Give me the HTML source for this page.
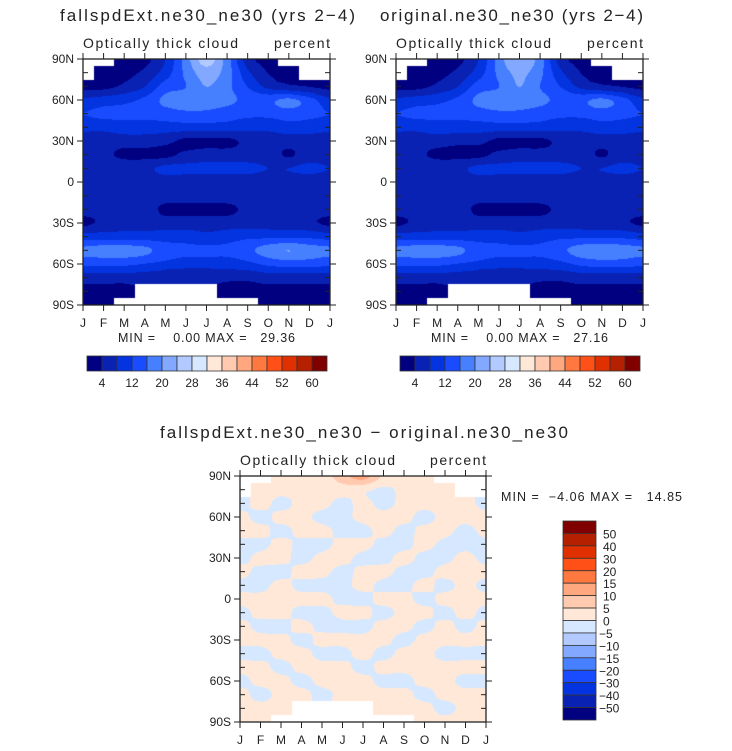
<!DOCTYPE html>
<html><head><meta charset="utf-8"><style>
html,body{margin:0;padding:0;background:#fff;}
body{width:732px;height:751px;position:relative;overflow:hidden;font-family:"Liberation Sans",sans-serif;}
canvas{position:absolute;}
svg{position:absolute;left:0;top:0;}
text{font-family:"Liberation Sans",sans-serif;fill:#222;white-space:pre;}
</style></head><body>
<canvas id="c1" width="247" height="246" style="left:83px;top:59px"></canvas>
<canvas id="c2" width="247" height="246" style="left:396px;top:59px"></canvas>
<canvas id="c3" width="246" height="246" style="left:240px;top:476px"></canvas>
<svg id="s" width="732" height="751"></svg>
<script>
const N=NaN;
const months=["J","F","M","A","M","J","J","A","S","O","N","D","J"];
const latLabels=["90N","60N","30N","0","30S","60S","90S"];
const levels=[4,8,12,16,20,24,28,32,36,40,44,48,52,56,60];
const levelLabels=["4","12","20","28","36","44","52","60"];
const colors=["#000080","#0a22b4","#0434e0","#1a4cff","#4680ff","#82a8ff","#b2caff","#d6e8ff","#ffe8d8","#ffcab0","#ffa880","#ff7840","#ff5018","#e03000","#b42000","#800000"];
const diffLevels=[-50,-40,-30,-20,-15,-10,-5,0,5,10,15,20,30,40,50];
const diffLabels=["50","40","30","20","15","10","5","0","\u22125","\u221210","\u221215","\u221220","\u221230","\u221240","\u221250"];
const diffColors=["#000080","#0a22b4","#0434e0","#1a4cff","#4680ff","#82a8ff","#b2caff","#d6e8ff","#ffe8d8","#ffcab0","#ffa880","#ff7840","#ff5018","#e03000","#b42000","#800000"];
// rows: 90N..90S every 10 deg; cols: month ticks J..J
const gridA=[
[N,N,3,3,8,18,26,18,6,3,N,N,N],
[N,3,3,5,10,17,22,18,9,4,3,N,N],
[3,3,5,8,14,16,20,17,12,7,5,4,3],
[9,10,11,13,17,18,18,17,15,15,17,14,9],
[12,13,13,13,14,15,15,14,13,13,14,13,12],
[9,9,10,10,10,10,10,10,9,9,10,10,9],
[6,6,6,6,5,3,3,3,5,6,6,6,6],
[6,5,3,3,3,5,6,6,6,6,3.5,6,6],
[8,7,7,7,9,9,9,9,9,8,8,9,8],
[6,6,6,6,6,6,6,6,6,6,6,6,6],
[6,6,6,6,6,6,6,6,6,6,6,6,6],
[6,6,6,6,3,3,3,3,5,6,6,6,6],
[3,5,6,6,6,6,6,6,6,6,6,5,3],
[10,10,10,10,10,10,9,10,11,11,11,11,10],
[17,18,18,17,14,13,13,13,15,18,20,18,17],
[13,13,13,12,11,10,10,10,11,13,14,14,13],
[6,6,6,6,5,5,5,5,5,6,6,6,6],
[3,3,3,N,N,N,N,3,3,3,3,3,3],
[3,3,N,N,N,N,N,N,N,3,3,3,3]];
const gridB=[
[N,N,3,3,8,18,24,18,6,3,N,N,N],
[N,3,3,5,10,17,21,17,9,4,3,N,N],
[3,3,5,8,14,16,20,16,12,7,5,4,3],
[9,10,11,13,17,18,18,17,15,15,17,14,9],
[12,13,13,13,14,15,15,14,13,13,14,13,12],
[9,9,10,10,10,10,10,10,9,9,10,10,9],
[6,6,6,5,5,3,3,3,5,6,6,6,6],
[6,5,3,3,3,5,6,6,6,6,3.5,6,6],
[8,7,7,7,9,9,9,9,9,8,8,9,8],
[6,6,6,6,6,6,6,6,6,6,6,6,6],
[6,6,6,6,6,6,6,6,6,6,6,6,6],
[6,6,6,6,3,3,3,3,5,6,6,6,6],
[3,5,6,6,6,6,6,6,6,6,6,5,3],
[10,10,10,10,10,10,9,10,11,11,11,11,10],
[17,18,18,17,14,13,13,13,15,18,19,18,17],
[13,13,13,12,11,10,10,10,11,13,14,14,13],
[6,6,6,6,5,5,5,5,5,6,6,6,6],
[3,3,3,N,N,N,N,3,3,3,3,3,3],
[3,3,N,N,N,N,N,N,N,3,3,3,3]];
const gridD=[
[N,N,1,1,2,8,12,4,1,1,N,N,N],
[N,1,1,1,1,2,1,-1,1,1,1,N,N],
[-1,1,-1,1,1,-1,1,-1,1,1,1,1,-1],
[1,-1,1,1,-1,-1,1,1,1,-1,1,1,1],
[1,1,-1,1,1,-1,-1,1,-1,1,1,-1,1],
[-1,-1,1,-1,-1,1,1,-1,-1,1,-1,-1,-1],
[-1,1,1,-1,1,1,-1,-1,1,-1,-1,1,-1],
[1,-1,-1,1,1,-1,1,1,-1,-1,1,1,1],
[-1,-1,1,-1,-1,-1,1,-1,-1,1,-1,1,-1],
[1,1,1,1,1,-1,-1,1,1,-1,1,1,1],
[-1,1,1,-1,-1,1,1,-1,1,1,-1,1,-1],
[1,-1,-1,1,-1,-1,-1,1,1,-1,1,-1,1],
[1,1,1,-1,1,1,1,1,-1,1,1,1,1],
[-1,-1,1,1,-1,-1,1,-1,1,1,-1,-1,-1],
[1,1,-1,1,1,1,-1,1,1,1,1,1,1],
[-1,1,1,-1,1,1,1,-1,-1,1,1,-1,-1],
[1,-1,1,1,-1,1,1,1,1,-1,1,1,1],
[1,1,1,N,N,N,N,1,1,1,-1,1,1],
[1,1,N,N,N,N,N,N,N,1,1,1,1]];

function hex(c){return [parseInt(c.substr(1,2),16),parseInt(c.substr(3,2),16),parseInt(c.substr(5,2),16)];}
function cr(p0,p1,p2,p3,t){return 0.5*((2*p1)+(-p0+p2)*t+(2*p0-5*p1+4*p2-p3)*t*t+(-p0+3*p1-3*p2+p3)*t*t*t);}
function drawMap(id,grid,lv,cl){
  const cv=document.getElementById(id),ctx=cv.getContext('2d'),w=cv.width,h=cv.height;
  const img=ctx.createImageData(w,h),R=grid.length,C=grid[0].length;
  const rgb=cl.map(hex);
  const g=(r,c)=>{r=Math.max(0,Math.min(R-1,r));c=Math.max(0,Math.min(C-1,c));return grid[r][c];};
  for(let py=0;py<h;py++){const fy=py/(h-1)*(R-1);const r0=Math.min(Math.floor(fy),R-2),ty=fy-r0;
    for(let px=0;px<w;px++){const fx=px/(w-1)*(C-1);const c0=Math.min(Math.floor(fx),C-2),tx=fx-c0;
      let col=[255,255,255];
      const nr=ty<0.5?r0:r0+1,nc=tx<0.5?c0:c0+1;
      const base=grid[nr][nc];
      if(!isNaN(base)){
        const rows=[];
        for(let dr=-1;dr<=2;dr++){const p=[];for(let dc=-1;dc<=2;dc++){let v=g(r0+dr,c0+dc);if(isNaN(v))v=base;p.push(v);}
          rows.push(cr(p[0],p[1],p[2],p[3],tx));}
        const v=cr(rows[0],rows[1],rows[2],rows[3],ty);
        let i=0;while(i<lv.length&&v>=lv[i])i++;col=rgb[i];}
      const k=(py*w+px)*4;img.data[k]=col[0];img.data[k+1]=col[1];img.data[k+2]=col[2];img.data[k+3]=255;}}
  ctx.putImageData(img,0,0);
}
drawMap('c1',gridA,levels,colors);
drawMap('c2',gridB,levels,colors);
drawMap('c3',gridD,diffLevels,diffColors);

const S=document.getElementById('s'),NS='http://www.w3.org/2000/svg';
function el(t,a,txt){const e=document.createElementNS(NS,t);for(const k in a)e.setAttribute(k,a[k]);if(txt!==undefined)e.textContent=txt;S.appendChild(e);return e;}
function axes(x0,y0,w,h,pre,title,titleX,titleW,stats,statsX,statsY,statsW){
  const t=el('text',{x:titleX,y:y0-38,'font-size':17,textLength:titleW,lengthAdjust:'spacing'},title);
  
  const s1=el('text',{x:x0,y:y0-11,'font-size':14,textLength:155,lengthAdjust:'spacing'},'Optically thick cloud');
  
  const s2=el('text',{x:x0+w-56,y:y0-11,'font-size':14,textLength:56,lengthAdjust:'spacing'},'percent');
  
  el('rect',{x:x0,y:y0,width:w,height:h,fill:'none',stroke:'#222','stroke-width':1.3});
  const xs=m=>x0+m/(months.length-1)*w, ys=lat=>y0+(90-lat)/180*h;
  months.forEach((m,i)=>{const x=xs(i);
    el('line',{x1:x,x2:x,y1:y0,y2:y0-6,stroke:'#222'});
    el('line',{x1:x,x2:x,y1:y0+h,y2:y0+h+6,stroke:'#222'});
    const ml=el('text',{x:x,y:y0+h+22,'font-size':12,'text-anchor':'middle'},m);
    });
  for(let lat=90;lat>=-90;lat-=10){const y=ys(lat),maj=lat%30===0;
    el('line',{x1:x0-(maj?6:0),x2:x0+(maj?0:5),y1:y,y2:y,stroke:'#222'});
    el('line',{x1:x0+w-(maj?0:5),x2:x0+w+(maj?6:0),y1:y,y2:y,stroke:'#222'});}
  latLabels.forEach((l,i)=>{const ll=el('text',{x:x0-9,y:ys(90-i*30)+4,'font-size':12,'text-anchor':'end'},l);
    });
  const st=el('text',{x:statsX,y:statsY,'font-size':12.5,textLength:statsW,lengthAdjust:'spacing'},stats);
  
}
axes(83,59,247,246,'plot1','fallspdExt.ne30_ne30 (yrs 2\u22124)',60,295,'MIN =    0.00 MAX =   29.36',118,342,177);
axes(396,59,247,246,'plot2','original.ne30_ne30 (yrs 2\u22124)',380,263,'MIN =    0.00 MAX =   27.16',431,342,177);
axes(240,476,246,246,'plot3','fallspdExt.ne30_ne30 \u2212 original.ne30_ne30',160,408,'MIN =  \u22124.06 MAX =   14.85',501,501,181);

function hbar(x0,y0,w,h,pre){
  const bw=w/colors.length;
  colors.forEach((c,i)=>{const r=el('rect',{x:x0+i*bw,y:y0,width:bw,height:h,fill:c,stroke:'#333','stroke-width':0.8});
    });
  levelLabels.forEach((l,i)=>{const t=el('text',{x:x0+(1+2*i)*bw,y:y0+h+16,'font-size':12,'text-anchor':'middle'},l);
    });
}
hbar(87,356,240,15,'plot1');hbar(400,356,240,15,'plot2');
(function(){const x0=563,y0=521,w=33,h=199,bh=h/diffColors.length;
  diffColors.slice().reverse().forEach((c,i)=>{const r=el('rect',{x:x0,y:y0+i*bh,width:w,height:bh,fill:c,stroke:'#333','stroke-width':0.8});
    });
  diffLabels.forEach((l,i)=>{const t=el('text',{x:l.startsWith('\u2212')?599:603,y:y0+(i+1)*bh+5,'font-size':12},l);
    });
})();
</script>
</body></html>
